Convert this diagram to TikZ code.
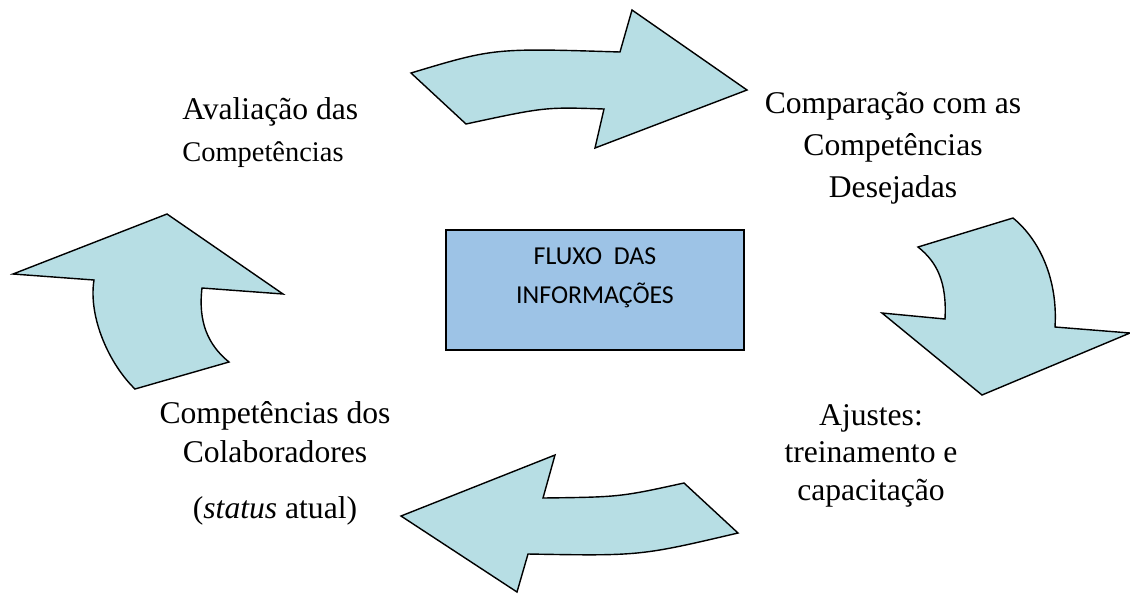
\documentclass[tikz,border=0pt]{standalone}
\usepackage{fontspec}
\setmainfont{Liberation Serif}
\newfontfamily\boxfont{Carlito}
\usepackage{tikz}
\usetikzlibrary{shapes}

\definecolor{arrowfill}{RGB}{183,222,228}
\definecolor{boxfill}{RGB}{157,195,230}

\begin{document}
\begin{tikzpicture}[x=0.02cm,y=-0.02cm,
	bigarrow/.style={draw=black,fill=arrowfill,line width=0.8pt,line join=miter},
	infobox/.style={draw=black,fill=boxfill,line width=0.9pt},
	steplabel/.style={font=\fontsize{18}{23.8}\selectfont,inner sep=0pt}]
	\useasboundingbox (0,0) rectangle (1130,593);
	\draw[bigarrow] (411,73) .. controls (494,48) .. (620,52) -- (632,10) -- (747,90)
		-- (595,148) -- (604,109) .. controls (545,107) .. (466,124) -- cycle;
	\draw[bigarrow] (918,247) -- (1013,218) .. controls (1040,240) and (1058,280) .. (1055,327)
		-- (1130,333) -- (982,395) -- (882,313) -- (945,319)
		.. controls (947,282) and (937,262) .. (918,247) -- cycle;
	\draw[bigarrow] (684,483) -- (738,533) .. controls (640,556) .. (528,554) -- (517,592)
		-- (401,516) -- (555,455) -- (543,498) .. controls (620,497) .. (684,483) -- cycle;
	\draw[bigarrow] (13,274) -- (167,214) -- (283,294) -- (202,288)
		.. controls (198,322) and (208,345) .. (229,362) -- (135,389)
		.. controls (110,365) and (88,318) .. (94,280) -- cycle;
	\node[infobox,minimum width=298*0.02cm,minimum height=120*0.02cm,inner sep=0pt] (fluxo) at (595,290) {};
	\node[font=\boxfont\fontsize{14.7}{22.5}\selectfont,align=center] (fluxotxt) at (595,278) {FLUXO\ \ DAS\\INFORMAÇÕES};
	\node[steplabel,align=left,anchor=base west] (avaliacao) at (182,161)
		{Avaliação das\\{\fontsize{16.2}{22.7}\selectfont Competências}};
	\node[steplabel,align=center,anchor=base] (comparacao) at (893,197)
		{Comparação com as\\Competências\\Desejadas};
	\node[steplabel,align=center,anchor=base] (ajustes) at (871,500)
		{Ajustes:\\[-2.5pt]treinamento e\\[-2.5pt]capacitação};
	\node[steplabel,align=center,anchor=base] (colaboradores) at (275,518)
		{Competências dos\\[-1.7pt]Colaboradores\\[8pt](\textit{status} atual)};
\end{tikzpicture}
\end{document}
